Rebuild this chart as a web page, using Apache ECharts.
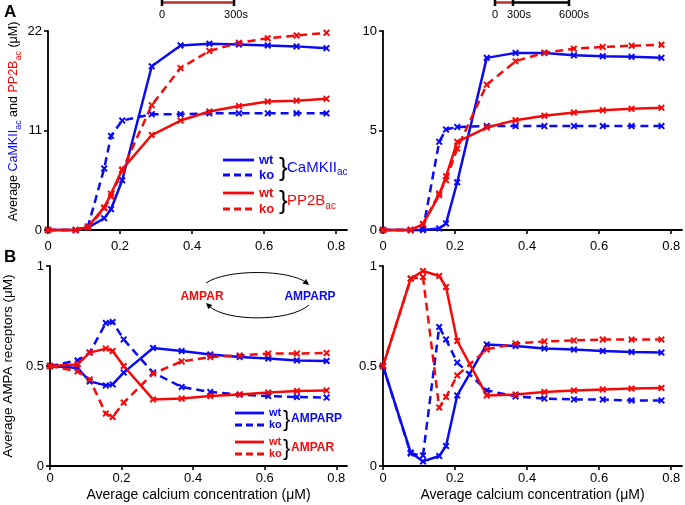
<!DOCTYPE html>
<html>
<head>
<meta charset="utf-8">
<script src="https://cdn.jsdelivr.net/npm/echarts@6/dist/echarts.min.js"></script>
<style>
  html, body { margin: 0; padding: 0; background: #fff; }
  #chart { width: 685px; height: 505px; }
</style>
</head>
<body>
<div id="chart"></div>
<script>
// average calcium concentration (uM), shared by every run
var calcium = [0, 0.077, 0.111, 0.156, 0.175, 0.206, 0.288, 0.368, 0.448, 0.53, 0.61, 0.69, 0.773];

// A, 300 s
var camkWtA = [0, 0, 0.26, 1.3, 2.3, 5.5, 18.1, 20.4, 20.6, 20.5, 20.4, 20.3, 20.1];
var camkKoA = [0, 0, 0.4, 6.8, 10.4, 12.1, 12.8, 12.8, 12.9, 12.9, 12.9, 12.9, 12.9];
var pp2bWtA = [0, 0, 0.37, 2.5, 4.0, 6.7, 10.5, 12.1, 13.1, 13.7, 14.2, 14.3, 14.5];
var pp2bKoA = [0, 0, 0.26, 2.4, 3.7, 6.6, 13.8, 17.9, 19.8, 20.7, 21.2, 21.5, 21.8];

// A, 6000 s
var camkWtB = [0, 0, 0, 0.08, 0.33, 2.4, 8.65, 8.9, 8.9, 8.78, 8.73, 8.7, 8.65];
var camkKoB = [0, 0, 0.02, 4.43, 5.05, 5.18, 5.22, 5.22, 5.22, 5.22, 5.22, 5.22, 5.22];
var pp2bWtB = [0, 0, 0.3, 1.75, 2.7, 4.43, 5.15, 5.52, 5.74, 5.9, 6.02, 6.09, 6.14];
var pp2bKoB = [0, 0, 0.3, 1.84, 2.5, 4.1, 7.3, 8.48, 8.91, 9.11, 9.2, 9.26, 9.31];

// B, 300 s
var amparpWtA = [0.5, 0.49, 0.423, 0.403, 0.408, 0.467, 0.59, 0.575, 0.558, 0.545, 0.537, 0.528, 0.525];
var amparpKoA = [0.5, 0.528, 0.567, 0.715, 0.72, 0.633, 0.467, 0.395, 0.37, 0.357, 0.35, 0.345, 0.342];
var amparWtA = [0.5, 0.508, 0.567, 0.587, 0.575, 0.5, 0.333, 0.337, 0.35, 0.358, 0.367, 0.375, 0.378];
var amparKoA = [0.5, 0.473, 0.433, 0.262, 0.245, 0.317, 0.462, 0.523, 0.545, 0.553, 0.562, 0.562, 0.565];

// B, 6000 s
var amparpWtB = [0.5, 0.067, 0.023, 0.05, 0.1, 0.353, 0.608, 0.6, 0.588, 0.582, 0.575, 0.57, 0.567];
var amparpKoB = [0.5, 0.062, 0.053, 0.695, 0.633, 0.517, 0.378, 0.348, 0.337, 0.333, 0.332, 0.328, 0.328];
var amparWtB = [0.5, 0.937, 0.975, 0.95, 0.895, 0.625, 0.353, 0.358, 0.37, 0.378, 0.383, 0.387, 0.39];
var amparKoB = [0.5, 0.937, 0.945, 0.292, 0.345, 0.453, 0.583, 0.612, 0.623, 0.628, 0.632, 0.632, 0.632];

var xTicks = [0, 0.2, 0.4, 0.6, 0.8];

var BLUE = '#0a0af5';
var RED = '#f50a0a';
var FONT = 'Liberation Sans, Arial, Helvetica, sans-serif';
var CROSS = 'path://M0,2L2,0L5,3L8,0L10,2L7,5L10,8L8,10L5,7L2,10L0,8L3,5Z';

var myChart = echarts.init(document.getElementById('chart'), null, { renderer: 'canvas' });

function pairs(ys) {
    return calcium.map(function (x, i) { return [x, ys[i]]; });
}

function line(idx, ys, color, dashed) {
    return {
        type: 'line',
        xAxisIndex: idx,
        yAxisIndex: idx,
        data: pairs(ys),
        clip: false,
        symbol: CROSS,
        symbolSize: 7,
        itemStyle: { color: color },
        lineStyle: { color: color, width: 2.5, type: dashed ? [8, 5] : 'solid' },
        emphasis: { disabled: true },
        animation: false
    };
}

function xAxis(idx, named) {
    return {
        type: 'value', gridIndex: idx, min: 0, max: 0.83,
        axisLine: { lineStyle: { color: '#000', width: 1.8 } },
        axisTick: { length: 4, lineStyle: { color: '#000', width: 1.6 }, customValues: xTicks },
        axisLabel: { color: '#000', fontSize: 13, fontFamily: FONT, margin: named ? 6 : 10, customValues: xTicks,
            formatter: function (v) { return v === 0 ? '0' : v.toFixed(1); } },
        splitLine: { show: false },
        name: named ? 'Average calcium concentration (\u03bcM)' : '',
        nameLocation: 'middle', nameGap: 22,
        nameTextStyle: { color: '#000', fontSize: 14, fontFamily: FONT }
    };
}

function yAxis(idx, max, step, name, gap, size, pad) {
    var s = size || 14;
    return {
        type: 'value', gridIndex: idx, min: 0, max: max, interval: step,
        axisLine: { show: true, lineStyle: { color: '#000', width: 1.8 } },
        axisTick: { show: true, length: 4, lineStyle: { color: '#000', width: 1.6 } },
        axisLabel: { color: '#000', fontSize: 13, fontFamily: FONT, margin: 6 },
        splitLine: { show: false },
        name: name || '',
        nameLocation: 'middle', nameGap: gap || 30, nameRotate: 90,
        nameTextStyle: {
            color: '#000', fontSize: s, fontFamily: FONT, padding: pad || 0,
            rich: {
                k: { color: '#000', fontSize: s, fontFamily: FONT, lineHeight: 18, verticalAlign: 'middle' },
                b: { color: BLUE, fontSize: s, fontFamily: FONT, lineHeight: 18, verticalAlign: 'middle' },
                bs: { color: BLUE, fontSize: 9, fontFamily: FONT, lineHeight: 9, verticalAlign: 'bottom' },
                r: { color: RED, fontSize: s, fontFamily: FONT, lineHeight: 18, verticalAlign: 'middle' },
                rs: { color: RED, fontSize: 9, fontFamily: FONT, lineHeight: 9, verticalAlign: 'bottom' }
            }
        }
    };
}

function txt(x, y, s, color, size, bold, align) {
    return {
        type: 'text', x: x, y: y,
        style: { text: s, fill: color, fontSize: size, fontFamily: FONT,
            fontWeight: bold ? 'bold' : 'normal', align: align || 'left', verticalAlign: 'middle' }
    };
}

function seg(x1, y1, x2, y2, color, w, dash) {
    return {
        type: 'line', shape: { x1: x1, y1: y1, x2: x2, y2: y2 },
        style: { stroke: color, lineWidth: w, lineDash: dash || null }
    };
}

function arrowHead(tx, ty, dx, dy) {
    var len = Math.sqrt(dx * dx + dy * dy);
    var ux = dx / len, uy = dy / len;
    var bx = tx - ux * 6, by = ty - uy * 6;
    return {
        type: 'polygon',
        shape: { points: [[tx, ty], [bx - uy * 3, by + ux * 3], [bx + uy * 3, by - ux * 3]] },
        style: { fill: '#000' }
    };
}

// legend block: two key lines, wt/ko, a brace and the species name
function legendBlock(x, y1, y2, color, label, sub, o) {
    var items = [
        seg(x, y1, x + o.len, y1, color, 2.8),
        seg(x, y2, x + o.len, y2, color, 2.8, [7, 4]),
        txt(x + o.len + 5, y1, 'wt', color, o.key, true),
        txt(x + o.len + 5, y2, 'ko', color, o.key, true),
        txt(x + o.brace, (y1 + y2) / 2 + 1, '}', '#000', o.braceSize, false)
    ];
    items.push({
        type: 'text', x: x + o.label, y: (y1 + y2) / 2,
        style: {
            text: sub ? '{m|' + label + '}{s|' + sub + '}' : '{m|' + label + '}',
            verticalAlign: 'middle',
            rich: {
                m: { fill: color, fontSize: o.size, fontFamily: FONT, fontWeight: sub ? 'normal' : 'bold', lineHeight: 20, verticalAlign: 'middle' },
                s: { fill: color, fontSize: 10, fontFamily: FONT, lineHeight: 10, verticalAlign: 'bottom' }
            }
        }
    });
    return items;
}

var bigKey = { len: 31, key: 13, brace: 56, braceSize: 26, label: 64, size: 15 };
var smallKey = { len: 29, key: 11, brace: 48, braceSize: 22, label: 56, size: 12 };

var graphics = [
    txt(4, 12, 'A', '#000', 17, true),
    txt(4, 257, 'B', '#000', 17, true),

    // time bars
    seg(162, 2.5, 234, 2.5, '#b53030', 2.5),
    seg(162, 0, 162, 6, '#000', 2.5),
    seg(234, 0, 234, 6, '#000', 2.5),
    txt(162, 15, '0', '#000', 11, false, 'center'),
    txt(236, 15, '300s', '#000', 11, false, 'center'),
    seg(495, 2.5, 513, 2.5, '#b53030', 2.5),
    seg(513, 2.5, 569, 2.5, '#000', 2.5),
    seg(495, 0, 495, 6, '#000', 2.5),
    seg(513, 0, 513, 6, '#000', 2.5),
    seg(569, 0, 569, 6, '#000', 2.5),
    txt(495, 15, '0', '#000', 11, false, 'center'),
    txt(519, 15, '300s', '#000', 11, false, 'center'),
    txt(574, 15, '6000s', '#000', 11, false, 'center'),

    // AMPAR <-> AMPARP cycle
    txt(202, 297, 'AMPAR', RED, 12, true, 'center'),
    txt(310, 297, 'AMPARP', BLUE, 12, true, 'center'),
    {
        type: 'bezierCurve',
        shape: { x1: 206, y1: 283, cpx1: 226, cpy1: 269, cpx2: 289, cpy2: 269, x2: 307, y2: 283 },
        style: { stroke: '#000', lineWidth: 1, fill: null }
    },
    arrowHead(309, 285, 16, 13),
    {
        type: 'bezierCurve',
        shape: { x1: 309, y1: 305, cpx1: 290, cpy1: 322, cpx2: 226, cpy2: 322, x2: 209, y2: 306 },
        style: { stroke: '#000', lineWidth: 1, fill: null }
    },
    arrowHead(206, 303, -16, -15)
];

graphics = graphics
    .concat(legendBlock(223, 160, 175, BLUE, 'CaMKII', 'ac', bigKey))
    .concat(legendBlock(223, 193, 209, RED, 'PP2B', 'ac', bigKey))
    .concat(legendBlock(235, 413, 425, BLUE, 'AMPARP', null, smallKey))
    .concat(legendBlock(235, 442, 454, RED, 'AMPAR', null, smallKey));

var option = {
    backgroundColor: '#fff',
    animation: false,
    grid: [
        { left: 48, top: 31, width: 299, height: 199 },
        { left: 383, top: 31, width: 299, height: 199 },
        { left: 48, top: 266, width: 299, height: 200 },
        { left: 383, top: 266, width: 299, height: 200 }
    ],
    xAxis: [xAxis(0, false), xAxis(1, false), xAxis(2, true), xAxis(3, true)],
    yAxis: [
        yAxis(0, 22, 11, '{k|Average }{b|CaMKII}{bs|ac}{k| and }{r|PP2B}{rs|ac}{k| (\u03bcM)}', 25, 12.5, [0, 0, 0, 18]),
        yAxis(1, 10, 5),
        yAxis(2, 1, 0.5, '{k|Average AMPA receptors (\u03bcM)}', 33, 13.5),
        yAxis(3, 1, 0.5)
    ],
    series: [
        line(0, camkKoA, BLUE, true),
        line(0, camkWtA, BLUE, false),
        line(0, pp2bWtA, RED, false),
        line(0, pp2bKoA, RED, true),

        line(1, camkKoB, BLUE, true),
        line(1, camkWtB, BLUE, false),
        line(1, pp2bWtB, RED, false),
        line(1, pp2bKoB, RED, true),

        line(2, amparpKoA, BLUE, true),
        line(2, amparpWtA, BLUE, false),
        line(2, amparWtA, RED, false),
        line(2, amparKoA, RED, true),

        line(3, amparpKoB, BLUE, true),
        line(3, amparpWtB, BLUE, false),
        line(3, amparWtB, RED, false),
        line(3, amparKoB, RED, true)
    ],
    graphic: graphics
};

myChart.setOption(option);
</script>
</body>
</html>
